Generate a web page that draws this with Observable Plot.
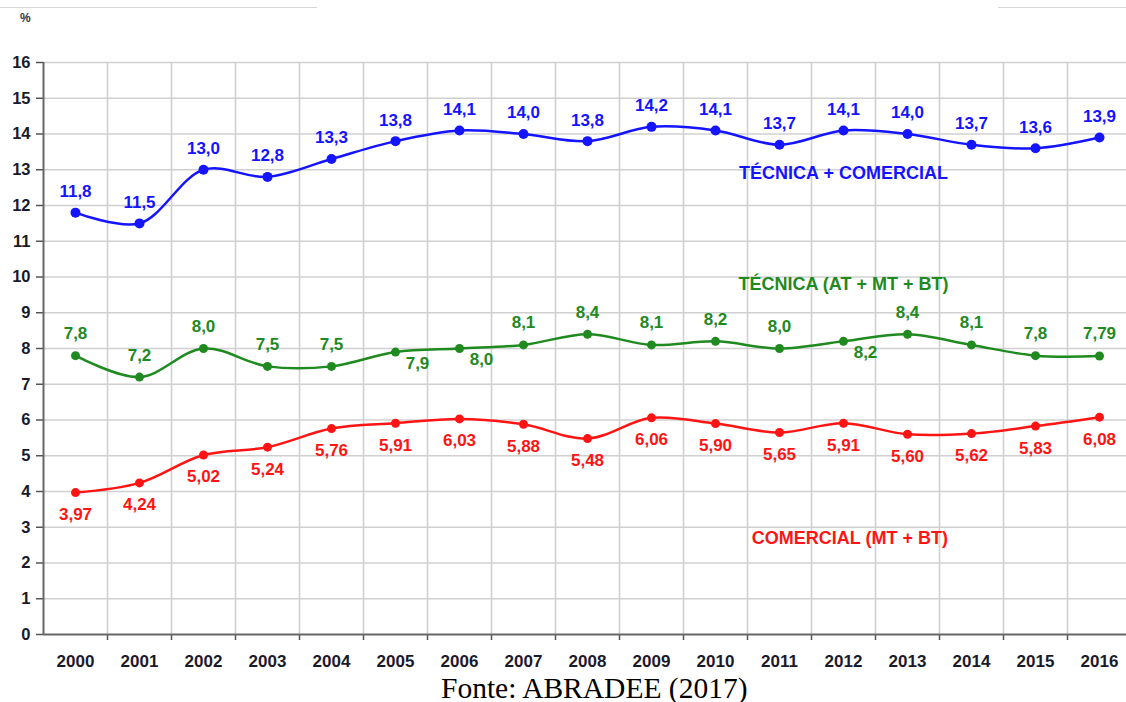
<!DOCTYPE html>
<html><head><meta charset="utf-8">
<script src="https://cdn.jsdelivr.net/npm/d3@7"></script>
<script src="https://cdn.jsdelivr.net/npm/@observablehq/plot@0.6"></script>
<style>
body{margin:0;background:#fff;width:1126px;height:702px;overflow:hidden;position:relative;font-family:"Liberation Sans",Arial,sans-serif;}
#chart{position:absolute;left:0;top:0;}
#pct{position:absolute;left:20px;top:11px;font-size:12px;font-weight:bold;color:#334;z-index:2;}
.topline{position:absolute;top:7px;height:1px;background:#d6d6d6;z-index:2;}
#cap{position:absolute;left:441px;top:671px;font-family:"Liberation Serif","Times New Roman",serif;font-size:29.5px;line-height:34px;color:#000;white-space:nowrap;z-index:2;}
</style></head>
<body>
<div id="chart"></div>
<div class="topline" style="left:0;width:317px"></div>
<div class="topline" style="left:998px;width:128px"></div>
<div id="pct">%</div>
<div id="cap">Fonte: ABRADEE (2017)</div>
<script>
const years = [2000,2001,2002,2003,2004,2005,2006,2007,2008,2009,2010,2011,2012,2013,2014,2015,2016];
const total = [11.8,11.5,13.0,12.8,13.3,13.8,14.1,14.0,13.8,14.2,14.1,13.7,14.1,14.0,13.7,13.6,13.9];
const tecnica = [7.8,7.2,8.0,7.5,7.5,7.9,8.0,8.1,8.4,8.1,8.2,8.0,8.2,8.4,8.1,7.8,7.79];
const comercial = [3.97,4.24,5.02,5.24,5.76,5.91,6.03,5.88,5.48,6.06,5.90,5.65,5.91,5.60,5.62,5.83,6.08];
const yTicks = [0,1,2,3,4,5,6,7,8,9,10,11,12,13,14,15,16];
const tecnicaLabelBelow = [2005,2006,2012];
const seriesNames = [
  {name:"TÉCNICA + COMERCIAL", year:2012, value:12.9, color:"#1414ff"},
  {name:"TÉCNICA (AT + MT + BT)", year:2012, value:9.8, color:"#1f8a1f"},
  {name:"COMERCIAL (MT + BT)", year:2012.1, value:2.7, color:"#ff1414"}
];

const BLUE="#1414ff", GREEN="#1f8a1f", RED="#ff1414";
const fmt = (v, d) => v.toFixed(d).replace(".", ",");
const autoDec = v => Math.abs(v*10 - Math.round(v*10)) < 1e-6 ? 1 : 2;

const tT = years.map((y,i)=>({year:y, value:total[i], label:fmt(total[i],1)}));
const tE = years.map((y,i)=>({year:y, value:tecnica[i], label:fmt(tecnica[i],autoDec(tecnica[i]))}));
const tC = years.map((y,i)=>({year:y, value:comercial[i], label:fmt(comercial[i],2)}));
const bounds = years.slice(0,-1).map(y=>y+0.5);
const xMin = years[0]-0.5, xMax = xMin + (1126-43)/64;

const font = {fontSize:17, fontWeight:"bold"};
const chart = Plot.plot({
  width:1126, height:670,
  marginLeft:43, marginRight:0, marginTop:62, marginBottom:36,
  x:{type:"linear", domain:[xMin,xMax], axis:null, label:null},
  y:{domain:[0,16], axis:null, label:null},
  style:{fontFamily:"'Liberation Sans', Arial, sans-serif", background:"#fff", overflow:"hidden"},
  marks:[
    Plot.ruleX(bounds, {y1:0, y2:16, stroke:"#d0d0d0", strokeWidth:1.6}),
    Plot.ruleY(yTicks.slice(1), {x1:xMin, x2:xMax, stroke:"#d0d0d0", strokeWidth:1.6}),
    Plot.axisY(yTicks, {label:null, tickSize:7, tickPadding:6, fontSize:16.5, fontWeight:"bold", fill:"#1a1a2a", stroke:"#555", strokeWidth:1.5}),
    Plot.axisX(bounds, {label:null, tickSize:6, tickFormat:()=>"", stroke:"#555", strokeWidth:1.5}),
    Plot.axisX(years, {label:null, tickSize:0, tickPadding:20, fontSize:17, fontWeight:"bold", fill:"#1a1a2a", tickFormat:d=>String(d)}),
    Plot.ruleX([xMin], {y1:0, y2:16, stroke:"#666", strokeWidth:2}),
    Plot.ruleY([0], {x1:xMin, x2:xMax, stroke:"#666", strokeWidth:2.2}),
    Plot.line(tT, {x:"year", y:"value", stroke:BLUE, strokeWidth:2.5, curve:"catmull-rom"}),
    Plot.line(tE, {x:"year", y:"value", stroke:GREEN, strokeWidth:2.5, curve:"catmull-rom"}),
    Plot.line(tC, {x:"year", y:"value", stroke:RED, strokeWidth:2.5, curve:"catmull-rom"}),
    Plot.dot(tT, {x:"year", y:"value", r:5, fill:BLUE}),
    Plot.dot(tE, {x:"year", y:"value", r:4.5, fill:GREEN}),
    Plot.dot(tC, {x:"year", y:"value", r:4.5, fill:RED}),
    Plot.text(tT, {x:"year", y:"value", text:"label", dy:-21, fill:BLUE, ...font}),
    Plot.text(tE.filter(d=>!tecnicaLabelBelow.includes(d.year)), {x:"year", y:"value", text:"label", dy:-22, fill:GREEN, ...font}),
    Plot.text(tE.filter(d=>tecnicaLabelBelow.includes(d.year)), {x:"year", y:"value", text:"label", dx:22, dy:11, fill:GREEN, ...font}),
    Plot.text(tC, {x:"year", y:"value", text:"label", dy:22, fill:RED, ...font}),
    Plot.text(seriesNames, {x:"year", y:"value", text:"name", fill:"color", fontSize:18, fontWeight:"bold"})
  ]
});
document.getElementById("chart").appendChild(chart);
</script>
</body></html>
